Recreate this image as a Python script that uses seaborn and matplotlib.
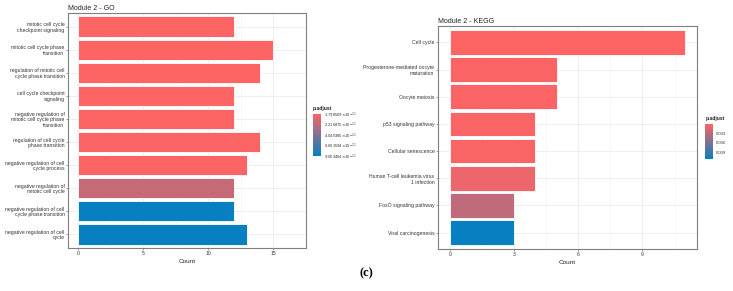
import numpy as np
import pandas as pd
import seaborn as sns
import matplotlib
matplotlib.use("Agg")
from matplotlib import pyplot as plt
from matplotlib.colors import LinearSegmentedColormap, Normalize
from matplotlib.cm import ScalarMappable

# ---- data ----
go_terms = [
    "mitotic cell cycle\ncheckpoint signaling",
    "mitotic cell cycle phase\ntransition",
    "regulation of mitotic cell\ncycle phase transition",
    "cell cycle checkpoint\nsignaling",
    "negative regulation of\nmitotic cell cycle phase\ntransition",
    "regulation of cell cycle\nphase transition",
    "negative regulation of cell\ncycle process",
    "negative regulation of\nmitotic cell cycle",
    "negative regulation of cell\ncycle phase transition",
    "negative regulation of cell\ncycle",
]
go_count = [12, 15, 14, 12, 12, 14, 13, 12, 12, 13]
go_padj = [1.80e-11, 1.80e-11, 1.80e-11, 1.80e-11, 1.85e-11, 1.90e-11, 1.90e-11, 3.40e-11, 9.00e-11, 9.00e-11]
go_cbar_labels = [r"1.798509$\times$10$^{-11}$", r"2.216875$\times$10$^{-11}$", r"4.040385$\times$10$^{-11}$",
                  r"6.601594$\times$10$^{-11}$", r"9.003464$\times$10$^{-11}$"]

kegg_terms = [
    "Cell cycle",
    "Progesterone-mediated oocyte\nmaturation",
    "Oocyte meiosis",
    "p53 signaling pathway",
    "Cellular senescence",
    "Human T-cell leukemia virus\n1 infection",
    "FoxO signaling pathway",
    "Viral carcinogenesis",
]
kegg_count = [11, 5, 5, 4, 4, 4, 3, 3]
kegg_padj = [0.0002, 0.0003, 0.0003, 0.0004, 0.0004, 0.0010, 0.0029, 0.0110]
kegg_cbar_ticks = [0.003, 0.006, 0.009]

RED = "#fd6464"
BLUE = "#087fc1"
cmap = LinearSegmentedColormap.from_list("padj", [RED, BLUE])

plt.rcParams['font.family'] = ['Liberation Sans', 'DejaVu Sans']
fig = plt.figure(figsize=(7.33, 2.91), dpi=100)


def enrich_panel(rect, terms, counts, padj, title, xticks, xmax, cbar_rect, cbar_ticks, cbar_labels):
    ax = fig.add_axes(rect)
    norm = Normalize(vmin=min(padj), vmax=max(padj))
    colors = [cmap(norm(p)) for p in padj]
    df = pd.DataFrame({"Description": terms, "Count": counts})
    sns.barplot(data=df, y="Description", x="Count", hue="Description",
                palette=dict(zip(terms, colors)), legend=False, width=0.9, saturation=1,
                edgecolor="white", linewidth=0.6, ax=ax, zorder=3)
    ax.set_xlim(-xmax * 0.05, xmax * 1.05)
    ax.set_ylim(len(terms) - 0.4, -0.6)
    ax.set_xticks(xticks)
    ax.set_xticks([(a + b) / 2 for a, b in zip(xticks[:-1], xticks[1:])] + [xticks[-1] + (xticks[1] - xticks[0]) / 2], minor=True)
    ax.grid(True, which="major", color="#ebebeb", lw=0.6, zorder=0)
    ax.grid(True, which="minor", axis="x", color="#f4f4f4", lw=0.4, zorder=0)
    ax.set_axisbelow(True)
    ax.tick_params(axis="both", which="major", labelsize=3.7, length=1.5, width=0.4,
                   color="#555555", labelcolor="#333333", pad=1)
    ax.tick_params(which="minor", length=0)
    ax.set_xlabel("Count", fontsize=4.6, labelpad=2, color="#222222")
    ax.set_ylabel("")
    for s in ax.spines.values():
        s.set_color("#7f7f7f")
        s.set_linewidth(0.8)
    ax.set_title(title, fontsize=5, loc="left", pad=2, color="#222222")

    cax = fig.add_axes(cbar_rect)
    cb = fig.colorbar(ScalarMappable(norm=norm, cmap=cmap), cax=cax)
    cax.invert_yaxis()
    cb.outline.set_visible(False)
    if cbar_labels is None:
        cb.set_ticks(cbar_ticks)
    else:
        cb.set_ticks(np.linspace(min(padj), max(padj), len(cbar_labels)))
        cb.set_ticklabels(cbar_labels)
    cax.tick_params(labelsize=3.0, length=1.2, width=0.4, color="white", labelcolor="#333333", pad=1)
    cax.set_title("p.adjust", fontsize=3.6, loc="left", pad=3, fontweight="bold", color="#222222")
    return ax


enrich_panel([0.0928, 0.1478, 0.3247, 0.8075], go_terms, go_count, go_padj,
             "Module 2 - GO", [0, 5, 10, 15], 15,
             [0.427, 0.465, 0.011, 0.144], None, go_cbar_labels)
enrich_panel([0.5975, 0.1443, 0.3535, 0.7664], kegg_terms, kegg_count, kegg_padj,
             "Module 2 - KEGG", [0, 3, 6, 9], 11,
             [0.962, 0.454, 0.011, 0.120], kegg_cbar_ticks, None)

fig.text(0.5, 0.062, "(c)", ha="center", va="center", fontsize=9, fontweight="bold",
         family=["Liberation Serif", "DejaVu Serif"])

fig.savefig("out.png", dpi=100)
